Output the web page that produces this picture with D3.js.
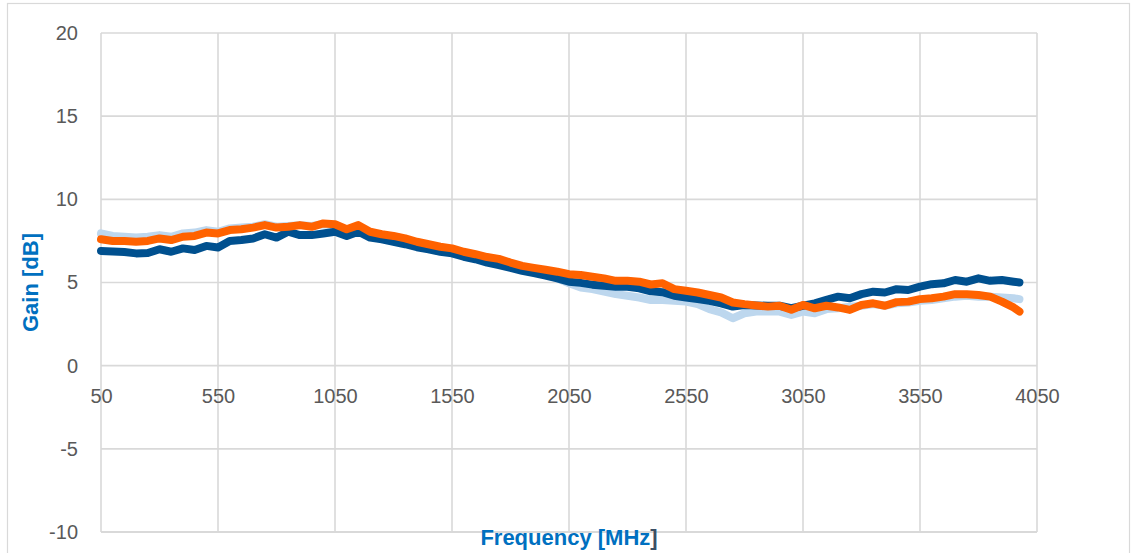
<!DOCTYPE html>
<html>
<head>
<meta charset="utf-8">
<script src="https://cdn.jsdelivr.net/npm/d3@7/dist/d3.min.js"></script>
<style>
  html, body { margin: 0; padding: 0; background: #fff; }
  svg { display: block; }
</style>
</head>
<body>
<svg id="chart" width="1132" height="553"></svg>
<script>
// ---- data ----
const freq = [50,100,150,200,250,300,350,400,450,500,
  550,600,650,700,750,800,850,900,950,1000,
  1050,1100,1150,1200,1250,1300,1350,1400,1450,1500,
  1550,1600,1650,1700,1750,1800,1850,1900,1950,2000,
  2050,2100,2150,2200,2250,2300,2350,2400,2450,2500,
  2550,2600,2650,2700,2750,2800,2850,2900,2950,3000,
  3050,3100,3150,3200,3250,3300,3350,3400,3450,3500,
  3550,3600,3650,3700,3750,3800,3850,3900,3950,3975];

const gainLight = [7.95,7.8,7.75,7.7,7.75,7.85,7.75,7.95,8.0,8.15,
  8.05,8.25,8.3,8.35,8.5,8.35,8.4,8.45,8.4,8.5,
  8.45,8.1,8.35,7.95,7.8,7.7,7.5,7.35,7.2,7.05,
  6.95,6.75,6.6,6.4,6.25,6.05,5.85,5.7,5.5,5.25,
  4.95,4.7,4.6,4.45,4.3,4.2,4.1,3.95,3.95,3.9,
  3.85,3.7,3.4,3.2,2.85,3.15,3.25,3.25,3.25,3.05,
  3.25,3.15,3.4,3.45,3.55,3.6,3.7,3.6,3.75,3.8,
  3.9,3.95,4.05,4.15,4.2,4.15,4.15,4.1,4.05,4.0];

const gainDark = [6.9,6.87,6.83,6.75,6.77,7.0,6.85,7.05,6.95,7.2,
  7.1,7.5,7.55,7.65,7.9,7.7,8.05,7.85,7.85,7.95,
  8.05,7.8,8.05,7.7,7.6,7.45,7.3,7.12,7.0,6.85,
  6.75,6.55,6.4,6.2,6.05,5.88,5.7,5.56,5.42,5.25,
  5.05,4.98,4.87,4.8,4.75,4.74,4.65,4.47,4.42,4.2,
  4.1,4.0,3.9,3.75,3.55,3.65,3.62,3.6,3.6,3.45,
  3.6,3.75,3.95,4.15,4.05,4.3,4.45,4.4,4.6,4.55,
  4.75,4.9,4.95,5.15,5.05,5.25,5.1,5.15,5.05,5.0];

const gainOrange = [7.6,7.5,7.5,7.45,7.5,7.65,7.55,7.75,7.8,8.0,
  7.95,8.15,8.2,8.3,8.45,8.3,8.35,8.45,8.35,8.55,
  8.5,8.2,8.45,8.05,7.9,7.8,7.65,7.45,7.3,7.15,
  7.05,6.85,6.7,6.53,6.42,6.2,6.0,5.88,5.77,5.65,
  5.5,5.45,5.35,5.25,5.1,5.1,5.05,4.88,4.95,4.6,
  4.5,4.4,4.25,4.1,3.8,3.7,3.62,3.55,3.6,3.36,
  3.65,3.45,3.6,3.5,3.35,3.65,3.75,3.6,3.82,3.85,
  4.0,4.05,4.15,4.3,4.3,4.25,4.15,3.85,3.5,3.25];

const xTicks = [50,550,1050,1550,2050,2550,3050,3550,4050];
const yTicks = [-10,-5,0,5,10,15,20];

const series = [
  { name: "light", values: gainLight, color: "#BDD7EE" },
  { name: "dark", values: gainDark, color: "#00508F" },
  { name: "orange", values: gainOrange, color: "#FF6200" }
];

// ---- layout ----
const svg = d3.select("#chart");
const x = d3.scaleLinear().domain([50, 4050]).range([101, 1037]);
const y = d3.scaleLinear().domain([-10, 20]).range([532, 33]);
const plainFmt = d => String(d);
const fontFam = "'Liberation Sans', Arial, sans-serif";

// outer frame
svg.append("rect")
  .attr("x", 7.5).attr("y", 3.5).attr("width", 1122).attr("height", 580)
  .attr("fill", "none").attr("stroke", "#D9D9D9").attr("stroke-width", 1.2);

const grid = svg.append("g");
grid.selectAll("line.h").data(yTicks).join("line")
  .attr("class", "h")
  .attr("x1", x(50)).attr("x2", x(4050))
  .attr("y1", d => y(d)).attr("y2", d => y(d))
  .attr("stroke", "#D9D9D9").attr("stroke-width", d => d === -10 ? 2.2 : 1.6);
grid.selectAll("line.v").data(xTicks).join("line")
  .attr("class", "v")
  .attr("y1", y(-10)).attr("y2", y(20))
  .attr("x1", d => x(d)).attr("x2", d => x(d))
  .attr("stroke", "#D9D9D9").attr("stroke-width", 1.6);

// y axis labels
const yAxis = d3.axisLeft(y).tickValues(yTicks).tickFormat(plainFmt).tickSize(0).tickPadding(23);
const gy = svg.append("g").attr("transform", `translate(${x(50)},0)`).call(yAxis);
gy.select(".domain").remove();
gy.selectAll("text")
  .attr("fill", "#595959")
  .style("font-family", fontFam)
  .style("font-size", "20px");

// x axis labels (placed below the 0 line)
const xAxis = d3.axisBottom(x).tickValues(xTicks).tickFormat(plainFmt).tickSize(0).tickPadding(23);
const gx = svg.append("g").attr("transform", `translate(0,${y(0)})`).call(xAxis);
gx.select(".domain").remove();
gx.selectAll("text")
  .attr("fill", "#595959")
  .style("font-family", fontFam)
  .style("font-size", "20px");

// lines
const line = d3.line()
  .x((d, i) => x(freq[i]))
  .y(d => y(d));

svg.append("g").selectAll("path").data(series).join("path")
  .attr("d", s => line(s.values))
  .attr("fill", "none")
  .attr("stroke", s => s.color)
  .attr("stroke-width", 8)
  .attr("stroke-linejoin", "round")
  .attr("stroke-linecap", "round");

// axis titles
const xt = svg.append("text")
  .attr("x", (x(50) + x(4050)) / 2).attr("y", 545)
  .attr("text-anchor", "middle")
  .attr("fill", "#0070C0")
  .style("font-family", fontFam)
  .style("font-weight", "bold")
  .style("font-size", "22px");
xt.append("tspan").text("Frequency [MHz");
xt.append("tspan").attr("fill", "#3B4F66").text("]");

svg.append("text")
  .attr("transform", `translate(38,${(y(-10) + y(20)) / 2}) rotate(-90)`)
  .attr("text-anchor", "middle")
  .attr("fill", "#0070C0")
  .style("font-family", fontFam)
  .style("font-weight", "bold")
  .style("font-size", "22px")
  .text("Gain [dB]");
</script>
</body>
</html>
